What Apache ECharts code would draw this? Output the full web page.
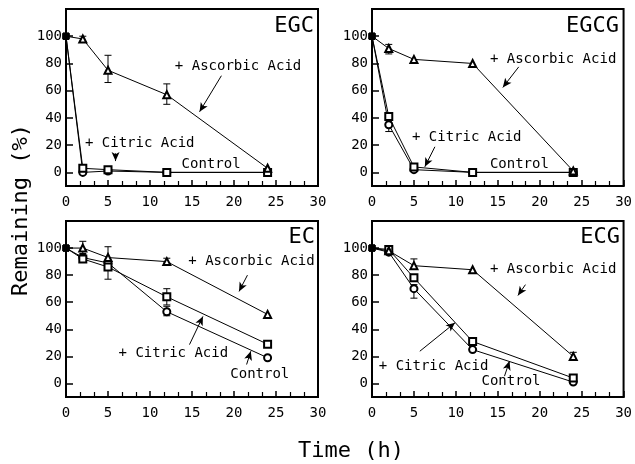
<!DOCTYPE html>
<html>
<head>
<meta charset="utf-8">
<script src="https://cdn.jsdelivr.net/npm/echarts@6/dist/echarts.min.js"></script>
<style>
html,body{margin:0;padding:0;background:#fff;}
#chart{width:635px;height:464px;}
</style>
</head>
<body>
<div id="chart"></div>
<script>
// ---- data ----
const xTimes = [0, 2, 5, 12, 24];
const yTicks = [0, 20, 40, 60, 80, 100];
const panelNames = ['EGC', 'EGCG', 'EC', 'ECG'];

const egcAscorbic = [100, 98, 75, 57, 3];
const egcCitric   = [100, 3, 2, 0, 0];
const egcControl  = [100, 0, 1, 0, 0];

const egcgAscorbic = [100, 91, 83, 80, 1];
const egcgCitric   = [100, 41, 4, 0, 0];
const egcgControl  = [100, 35, 2, 0, 0];

const ecAscorbic = [100, 100, 93, 90, 51];
const ecCitric   = [100, 92, 86, 64, 29];
const ecControl  = [100, 93, 89, 53, 19];

const ecgAscorbic = [100, 98, 87, 84, 20];
const ecgCitric   = [100, 99, 78, 31, 4];
const ecgControl  = [100, 97, 70, 25, 1];

// error bars: [time, low, high]
const egcErr  = [[2, 96, 100], [5, 66, 86], [12, 50, 65]];
const egcgErr = [[2, 87, 94], [2, 30, 40]];
const ecErr   = [[2, 96, 105], [5, 77, 101], [12, 89, 92.5], [12, 58, 70], [12, 50, 57]];
const ecgErr  = [[5, 85, 92], [5, 63, 73], [24, 17, 23]];

// annotations (data coordinates): text [label, x, y], arrows [[x1,y1],[x2,y2]]
const egcTexts  = [['+ Ascorbic Acid', 12.9, 78], ['+ Citric Acid', 2.2, 21.4], ['Control', 13.7, 6]];
const egcArrows = [[[18.5, 71], [15.9, 44.5]], [[5.9, 14], [5.9, 8.3]]];
const egcgTexts  = [['+ Ascorbic Acid', 14, 83], ['+ Citric Acid', 4.7, 26], ['Control', 14, 6]];
const egcgArrows = [[[17.5, 77.5], [15.6, 62.4]], [[7.5, 18.8], [6.3, 4.1]]];
const ecTexts  = [['+ Ascorbic Acid', 14.5, 90], ['+ Citric Acid', 6.2, 22], ['Control', 19.5, 6.6]];
const ecArrows = [[[21.6, 80], [20.6, 68]], [[14.7, 28.7], [16.3, 49.5]], [[21.5, 14], [22, 23.8]]];
const ecgTexts  = [['+ Ascorbic Acid', 14, 84.3], ['+ Citric Acid', 0.75, 12.8], ['Control', 13, 1.5]];
const ecgArrows = [[[18.3, 73], [17.4, 65]], [[5.7, 23.8], [9.9, 44.8]], [[15.8, 5.4], [16.4, 16.5]]];

// ---- build ----
const FONT = "'DejaVu Sans Mono', 'Liberation Mono', monospace";
const panels = [
  {asc: egcAscorbic, cit: egcCitric, con: egcControl, err: egcErr, texts: egcTexts, arrows: egcArrows},
  {asc: egcgAscorbic, cit: egcgCitric, con: egcgControl, err: egcgErr, texts: egcgTexts, arrows: egcgArrows},
  {asc: ecAscorbic, cit: ecCitric, con: ecControl, err: ecErr, texts: ecTexts, arrows: ecArrows},
  {asc: ecgAscorbic, cit: ecgCitric, con: ecgControl, err: ecgErr, texts: ecgTexts, arrows: ecgArrows}
];
const gridBoxes = [
  {left: 66, top: 9, width: 252, height: 177},
  {left: 372, top: 9, width: 254, height: 177},
  {left: 66, top: 221, width: 252, height: 176},
  {left: 372, top: 221, width: 254, height: 176}
];
const titlePos = [[314, 26], [619, 26], [315, 237], [620, 237]];

const grids = [], xAxes = [], yAxes = [], series = [], graphics = [];

function pts(vals) {
  return vals.map((v, i) => i === 0
    ? {value: [xTimes[i], v], symbol: 'rect', symbolSize: 6, itemStyle: {color: '#000', borderColor: '#000'}}
    : [xTimes[i], v]);
}

panels.forEach((p, k) => {
  grids.push(Object.assign({show: true, borderColor: '#000', borderWidth: 2}, gridBoxes[k]));
  xAxes.push({
    gridIndex: k, type: 'value', min: 0, max: 30, interval: 5,
    axisLine: {show: true, onZero: false, lineStyle: {color: '#000', width: 2}},
    axisTick: {show: true, inside: true, length: 6, lineStyle: {color: '#000', width: 1.5}},
    minorTick: {show: true, splitNumber: 3, length: 5, lineStyle: {color: '#000', width: 1.2}},
    axisLabel: {color: '#000', fontFamily: FONT, fontSize: 14, margin: 9},
    splitLine: {show: false}
  });
  yAxes.push({
    gridIndex: k, type: 'value', min: -10, max: 120,
    axisLine: {show: true, onZero: false, lineStyle: {color: '#000', width: 2}},
    axisTick: {show: true, inside: true, length: 7, customValues: yTicks, lineStyle: {color: '#000', width: 1.5}},
    axisLabel: {color: '#000', fontFamily: FONT, fontSize: 14, margin: 4, customValues: yTicks},
    splitLine: {show: false}
  });
  const common = {
    type: 'line', xAxisIndex: k, yAxisIndex: k, symbolSize: 7,
    lineStyle: {color: '#000', width: 1}, itemStyle: {color: '#000', borderColor: '#000', borderWidth: 1},
    z: 3
  };
  series.push(Object.assign({}, common, {name: 'Control', symbol: 'emptyCircle', data: pts(p.con)}));
  series.push(Object.assign({}, common, {name: '+ Citric Acid', symbol: 'emptyRect', data: pts(p.cit)}));
  series.push(Object.assign({}, common, {
    name: '+ Ascorbic Acid', symbol: 'emptyTriangle', data: pts(p.asc),
    markPoint: {
      silent: true, animation: false,
      symbol: 'circle', symbolSize: 1, itemStyle: {color: 'rgba(0,0,0,0)'},
      label: {show: true, position: 'right', distance: 0, color: '#000', fontFamily: FONT, fontSize: 14,
              formatter: (d) => d.name},
      data: p.texts.map(t => ({name: t[0], coord: [t[1], t[2]]}))
    },
    markLine: {
      silent: true, animation: false, symbol: ['none', 'arrow'], symbolSize: [6, 9],
      lineStyle: {color: '#000', width: 1, type: 'solid'}, label: {show: false},
      emphasis: {disabled: true},
      data: p.arrows.map(a => [{coord: a[0]}, {coord: a[1]}])
    }
  }));
  series.push({
    type: 'custom', xAxisIndex: k, yAxisIndex: k, z: 2,
    encode: {x: 0, y: [1, 2]},
    data: p.err,
    renderItem: function (params, api) {
      const x = api.value(0), lo = api.value(1), hi = api.value(2);
      const a = api.coord([x, hi]), b = api.coord([x, lo]);
      const w = 3.5;
      const st = {stroke: '#000', lineWidth: 1, fill: null};
      return {type: 'group', children: [
        {type: 'line', shape: {x1: a[0], y1: a[1], x2: b[0], y2: b[1]}, style: st},
        {type: 'line', shape: {x1: a[0] - w, y1: a[1], x2: a[0] + w, y2: a[1]}, style: st},
        {type: 'line', shape: {x1: b[0] - w, y1: b[1], x2: b[0] + w, y2: b[1]}, style: st}
      ]};
    }
  });
  graphics.push({
    type: 'text', x: titlePos[k][0], y: titlePos[k][1],
    style: {text: panelNames[k], fill: '#000', font: '22px ' + FONT, textAlign: 'right', textVerticalAlign: 'middle'}
  });
});

graphics.push({
  type: 'text', x: 351, y: 451,
  style: {text: 'Time (h)', fill: '#000', font: '22px ' + FONT, textAlign: 'center', textVerticalAlign: 'middle'}
});
graphics.push({
  type: 'text', x: 21, y: 210, rotation: Math.PI / 2,
  style: {text: 'Remaining (%)', fill: '#000', font: '22px ' + FONT, textAlign: 'center', textVerticalAlign: 'middle'}
});

const chart = echarts.init(document.getElementById('chart'), null, {renderer: 'canvas'});
chart.setOption({
  animation: false,
  backgroundColor: '#fff',
  grid: grids, xAxis: xAxes, yAxis: yAxes, series: series, graphic: graphics
});
</script>
</body>
</html>
